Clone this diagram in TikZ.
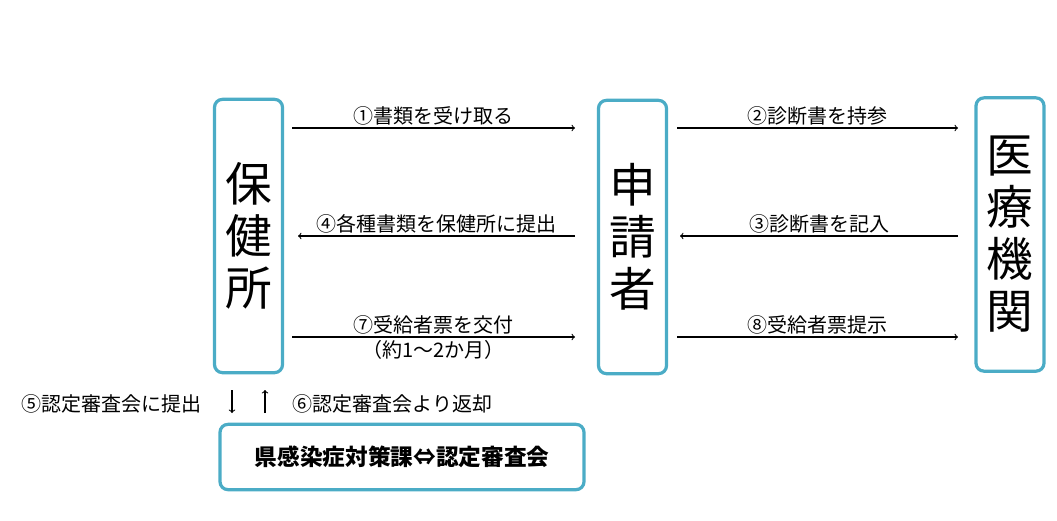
\documentclass[tikz,border=0pt]{standalone}
\usepackage{fontspec}
\setmainfont{Noto Sans CJK JP}
\definecolor{boxteal}{HTML}{4BACC6}
\tikzset{
  office/.style={draw=boxteal, line width=2.4pt, rounded corners=6pt, minimum width=51pt, minimum height=205pt, align=center, font=\fontsize{35}{39}\selectfont},
  flow/.style={->, >=to, line width=0.8pt},
  lbl/.style={font=\fontsize{15}{17}\selectfont, inner sep=1pt}
}
\begin{document}
\begin{tikzpicture}[x=0.75pt, y=-0.75pt]
  \useasboundingbox (0,0) rectangle (1057,521);
  % three boxes
  \node[office] (hoken) at (248.5,236) {保\\健\\所};
  \node[office] (shinsei) at (632.5,237) {申\\請\\者};
  \node[office] (iryo) at (1010,234.5) {医\\療\\機\\関};
  % bottom box
  \node[draw=boxteal, line width=2.4pt, rounded corners=6pt, minimum width=273pt, minimum height=49pt, font=\bfseries\fontsize{17}{19}\selectfont] (ken) at (402,457) {県感染症対策課⇔認定審査会};
  % left arrows
  \coordinate (a1) at (292,128); \coordinate (b1) at (575,128);
  \coordinate (a2) at (575,236); \coordinate (b2) at (298,236);
  \coordinate (a3) at (292,337); \coordinate (b3) at (575,337);
  \draw[flow] (a1) -- (b1) node[lbl, midway, above=1pt] {①書類を受け取る};
  \draw[flow] (a2) -- (b2) node[lbl, midway, above=1pt] {④各種書類を保健所に提出};
  \draw[flow] (a3) -- (b3) node[lbl, midway, above=1pt] {⑦受給者票を交付}
    node[lbl, midway, below=1pt] {（約1～2か月）};
  % right arrows
  \coordinate (c1) at (677,128); \coordinate (d1) at (958,128);
  \coordinate (c2) at (958,236); \coordinate (d2) at (680,236);
  \coordinate (c3) at (677,337); \coordinate (d3) at (958,337);
  \draw[flow] (c1) -- (d1) node[lbl, midway, above=1pt] {②診断書を持参};
  \draw[flow] (c2) -- (d2) node[lbl, midway, above=1pt] {③診断書を記入};
  \draw[flow] (c3) -- (d3) node[lbl, midway, above=1pt] {⑧受給者票提示};
  % vertical arrows
  \coordinate (e1) at (232,390); \coordinate (f1) at (232,413);
  \coordinate (e2) at (265,413); \coordinate (f2) at (265,390);
  \draw[flow] (e1) -- (f1);
  \draw[flow] (e2) -- (f2);
  \node[lbl, anchor=east] (teishutsu) at (203,404) {⑤認定審査会に提出};
  \node[lbl, anchor=west] (henkyaku) at (291,404) {⑥認定審査会より返却};
\end{tikzpicture}
\end{document}
